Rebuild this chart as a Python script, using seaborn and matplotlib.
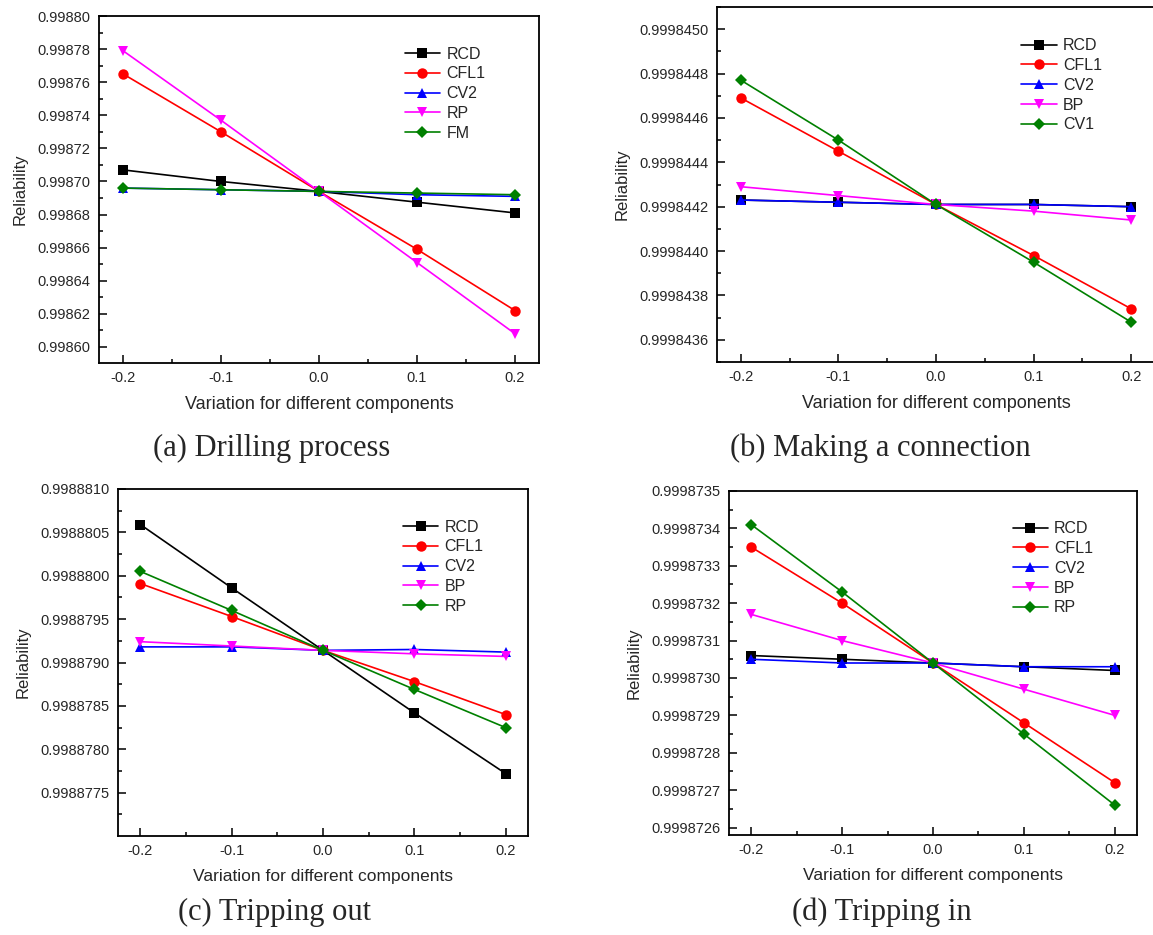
import numpy as np
import pandas as pd
import matplotlib
matplotlib.use("Agg")
import matplotlib.pyplot as plt
import seaborn as sns
from matplotlib.ticker import FixedLocator, FormatStrFormatter

# ---------------- data ----------------
x_vals = [-0.2, -0.1, 0.0, 0.1, 0.2]

# (a) Drilling process
a_names = ["RCD", "CFL1", "CV2", "RP", "FM"]
a_RCD = [0.998707, 0.998700, 0.998694, 0.9986875, 0.998681]
a_CFL1 = [0.998765, 0.998730, 0.998694, 0.998659, 0.998622]
a_CV2 = [0.998696, 0.998695, 0.998694, 0.998692, 0.998691]
a_RP = [0.998779, 0.998737, 0.998694, 0.998651, 0.998608]
a_FM = [0.998696, 0.998695, 0.998694, 0.998693, 0.998692]

# (b) Making a connection
b_names = ["RCD", "CFL1", "CV2", "BP", "CV1"]
b_RCD = [0.99984423, 0.99984422, 0.99984421, 0.99984421, 0.99984420]
b_CFL1 = [0.99984469, 0.99984445, 0.99984421, 0.99984398, 0.99984374]
b_CV2 = [0.99984423, 0.99984422, 0.99984421, 0.99984421, 0.99984420]
b_BP = [0.99984429, 0.99984425, 0.99984421, 0.99984418, 0.99984414]
b_CV1 = [0.99984477, 0.99984450, 0.99984421, 0.99984395, 0.99984368]

# (c) Tripping out
c_names = ["RCD", "CFL1", "CV2", "BP", "RP"]
c_RCD = [0.99888059, 0.99887986, 0.99887914, 0.99887842, 0.99887772]
c_CFL1 = [0.99887991, 0.99887953, 0.99887914, 0.99887878, 0.99887840]
c_CV2 = [0.99887918, 0.99887918, 0.99887914, 0.99887915, 0.99887912]
c_BP = [0.99887924, 0.99887919, 0.99887914, 0.99887910, 0.99887907]
c_RP = [0.99888005, 0.99887960, 0.99887914, 0.99887869, 0.99887825]

# (d) Tripping in
d_names = ["RCD", "CFL1", "CV2", "BP", "RP"]
d_RCD = [0.99987306, 0.99987305, 0.99987304, 0.99987303, 0.99987302]
d_CFL1 = [0.99987335, 0.99987320, 0.99987304, 0.99987288, 0.99987272]
d_CV2 = [0.99987305, 0.99987304, 0.99987304, 0.99987303, 0.99987303]
d_BP = [0.99987317, 0.99987310, 0.99987304, 0.99987297, 0.99987290]
d_RP = [0.99987341, 0.99987323, 0.99987304, 0.99987285, 0.99987266]

a_ticks = [0.99860, 0.99862, 0.99864, 0.99866, 0.99868, 0.99870,
           0.99872, 0.99874, 0.99876, 0.99878, 0.99880]
b_ticks = [0.9998436, 0.9998438, 0.9998440, 0.9998442, 0.9998444,
           0.9998446, 0.9998448, 0.9998450]
c_ticks = [0.9988775, 0.9988780, 0.9988785, 0.9988790, 0.9988795,
           0.9988800, 0.9988805, 0.9988810]
d_ticks = [0.9998726, 0.9998727, 0.9998728, 0.9998729, 0.9998730,
           0.9998731, 0.9998732, 0.9998733, 0.9998734, 0.9998735]
x_ticks = [-0.2, -0.1, 0.0, 0.1, 0.2]

captions = ["(a) Drilling process", "(b) Making a connection",
            "(c) Tripping out", "(d) Tripping in"]

# ---------------- style ----------------
sns.set_style("ticks")
plt.rcParams["font.family"] = ["Liberation Sans", "DejaVu Sans"]

colors = ["#000000", "#ff0000", "#0000ff", "#ff00ff", "#008000"]
markers = ["s", "o", "^", "v", "D"]
msizes = [6.5, 7.5, 7.5, 7.5, 6.5]

fig = plt.figure(figsize=(11.53, 9.35), dpi=100)

panels = [
    dict(names=a_names, series=[a_RCD, a_CFL1, a_CV2, a_RP, a_FM], ticks=a_ticks,
         ylim=(0.9985903, 0.99880), fmt="%.5f",
         rect=[99/1153, 1-363/935, 440/1153, 347/935], xl=13, cap=(272, 448)),
    dict(names=b_names, series=[b_RCD, b_CFL1, b_CV2, b_BP, b_CV1], ticks=b_ticks,
         ylim=(0.9998435, 0.9998451), fmt="%.7f",
         rect=[717/1153, 1-362/935, 438/1153, 355/935], xl=13, cap=(880, 448)),
    dict(names=c_names, series=[c_RCD, c_CFL1, c_CV2, c_BP, c_RP], ticks=c_ticks,
         ylim=(0.9988770, 0.9988810), fmt="%.7f",
         rect=[118/1153, 1-836/935, 410/1153, 347/935], xl=12.5, cap=(274, 912)),
    dict(names=d_names, series=[d_RCD, d_CFL1, d_CV2, d_BP, d_RP], ticks=d_ticks,
         ylim=(0.99987258, 0.9998735), fmt="%.7f",
         rect=[729/1153, 1-835/935, 408/1153, 344/935], xl=12.5, cap=(882, 912)),
]

for p, cap in zip(panels, captions):
    ax = fig.add_axes(p["rect"])
    rows = []
    for name, vals in zip(p["names"], p["series"]):
        for xv, yv in zip(x_vals, vals):
            rows.append({"x": xv, "y": yv, "series": name})
    df = pd.DataFrame(rows)
    for i, name in enumerate(p["names"]):
        sub = df[df["series"] == name]
        sns.lineplot(data=sub, x="x", y="y", ax=ax, color=colors[i],
                     marker=markers[i], markersize=msizes[i],
                     markeredgewidth=0, linewidth=1.2, estimator=None,
                     sort=False, label=name, legend=False)
    ax.set_xlim(-0.2245, 0.2245)
    ax.set_ylim(*p["ylim"])
    ax.xaxis.set_major_locator(FixedLocator(x_ticks))
    ax.xaxis.set_minor_locator(FixedLocator([-0.15, -0.05, 0.05, 0.15]))
    ax.xaxis.set_major_formatter(FormatStrFormatter("%.1f"))
    t = p["ticks"]
    step = t[1] - t[0]
    minors = [v + step / 2 for v in t] + [t[0] - step / 2]
    ax.yaxis.set_major_locator(FixedLocator(t))
    ax.yaxis.set_minor_locator(FixedLocator(minors))
    ax.yaxis.set_major_formatter(FormatStrFormatter(p["fmt"]))
    ax.tick_params(axis="both", which="major", direction="in", length=5.5,
                   width=1.1, labelsize=10.5, color="black")
    ax.tick_params(axis="both", which="minor", direction="in", length=3,
                   width=1.1, color="black")
    ax.tick_params(axis="y", which="major", pad=6)
    ax.tick_params(axis="x", which="major", pad=5.5)
    for s in ax.spines.values():
        s.set_linewidth(1.3)
        s.set_color("black")
    ax.set_xlabel("Variation for different components", fontsize=p["xl"], labelpad=8)
    ax.set_ylabel("Reliability", fontsize=12, labelpad=7)
    handles = ax.get_lines()[:5]
    ax.legend(handles=handles, labels=p["names"], loc="upper left",
              bbox_to_anchor=(0.695, 0.912), frameon=False, fontsize=11.5,
              borderaxespad=0, borderpad=0, handlelength=2.2,
              handletextpad=0.4, labelspacing=0.3)
    fig.text(p["cap"][0] / 1153, 1 - p["cap"][1] / 935, cap,
             fontsize=22, family=["Liberation Serif", "DejaVu Serif"],
             ha="center", va="center")

fig.savefig("out.png", dpi=100)
